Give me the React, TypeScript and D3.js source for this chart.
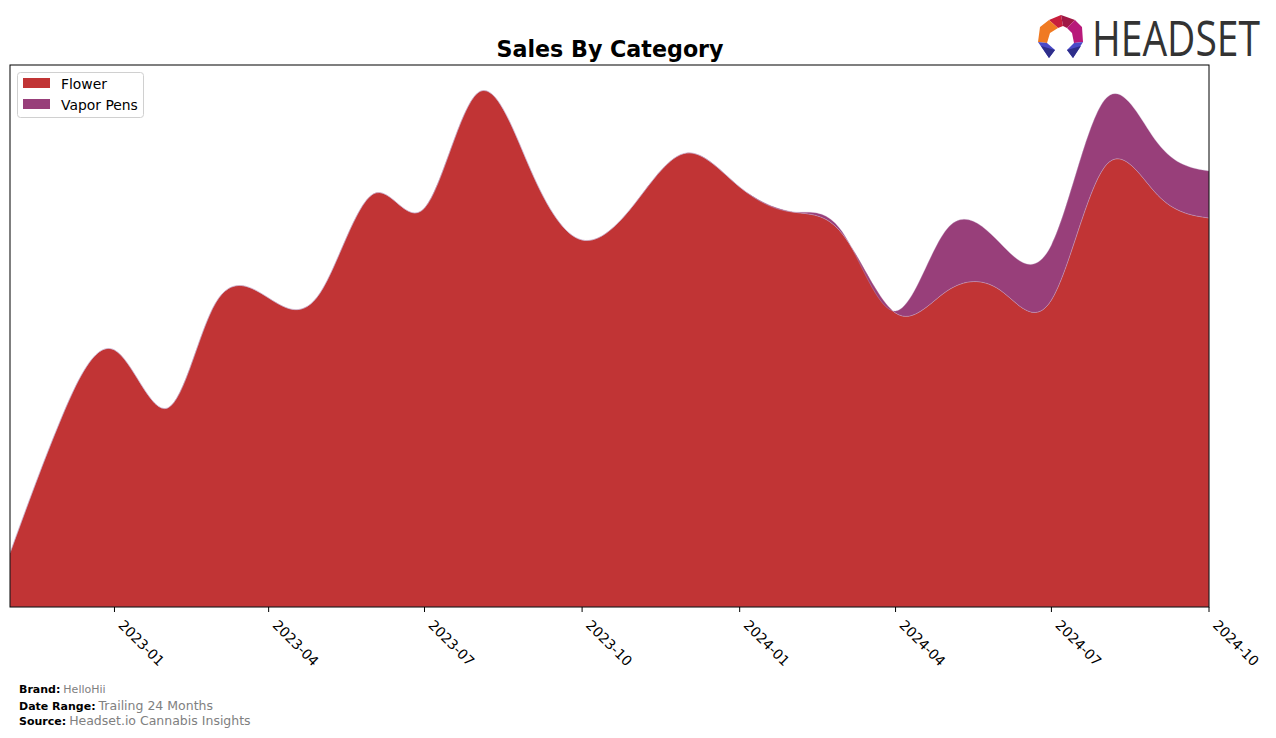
import React from "react";
import * as d3 from "d3";

const months: string[] = [
  "2022-11", "2022-12", "2023-01", "2023-02", "2023-03", "2023-04", "2023-05", "2023-06",
  "2023-07", "2023-08", "2023-09", "2023-10", "2023-11", "2023-12", "2024-01", "2024-02",
  "2024-03", "2024-04", "2024-05", "2024-06", "2024-07", "2024-08", "2024-09", "2024-10",
];
const flower: number[] = [
  54, 189, 257, 199, 304, 309, 314, 413, 399, 514, 437, 367,
  404, 454, 420, 395, 373, 294, 316, 317, 307, 440, 412, 389,
];
const vaporPens: number[] = [
  0, 0, 0, 0, 0, 0, 0, 0, 0, 0, 0, 0,
  0, 0, 0, 0, 2, 2, 62, 47, 55, 67, 52, 47,
];
const seriesNames: string[] = ["Flower", "Vapor Pens"];
const seriesColors: string[] = ["#C13435", "#983F7A"];
const tickLabels: string[] = ["2023-01", "2023-04", "2023-07", "2023-10", "2024-01", "2024-04", "2024-07", "2024-10"];
const yDomainMax = 542;

const W = 1276, H = 738;
const L = 10, R = 1209, T = 65, B = 607;

export default function App() {
  const parse = d3.utcParse("%Y-%m");
  const dates = months.map((m) => parse(m) as Date);
  const rows = dates.map((d, i) => ({ date: d, Flower: flower[i], "Vapor Pens": vaporPens[i] }));
  const stack = d3.stack<any>().keys(seriesNames);
  const layers = stack(rows);

  const x = d3.scaleUtc().domain([dates[0], dates[dates.length - 1]]).range([L, R]);
  const y = d3.scaleLinear().domain([0, yDomainMax]).range([B, T]);

  const area = d3
    .area<any>()
    .x((d) => x(d.data.date))
    .y0((d) => y(d[0]))
    .y1((d) => y(d[1]))
    .curve(d3.curveNatural);

  const font = "'DejaVu Sans', sans-serif";

  return (
    <svg width={W} height={H} style={{ position: "absolute", left: 0, top: 0, background: "#fff" }}>
      <defs>
        <clipPath id="plotclip">
          <rect x={L} y={T} width={R - L} height={B - T} />
        </clipPath>
      </defs>
      <g clipPath="url(#plotclip)">
        {layers.map((layer, i) => (
          <path
            key={seriesNames[i]}
            d={area(layer as any) || ""}
            fill={seriesColors[i]}
            stroke="#c9b6d6"
            strokeWidth={0.4}
            strokeOpacity={0.8}
          />
        ))}
      </g>
      <rect x={L} y={T} width={R - L} height={B - T} fill="none" stroke="#000" strokeWidth={1} />

      {tickLabels.map((t) => {
        const tx = x(parse(t) as Date);
        return (
          <g key={t}>
            <line x1={tx} x2={tx} y1={B} y2={B + 5} stroke="#000" strokeWidth={1} />
            <text
              transform={`translate(${tx + 3},${B + 19}) rotate(45)`}
              fontFamily={font}
              fontSize={13.9}
              fill="#000"
            >
              {t}
            </text>
          </g>
        );
      })}

      <text x={610} y={57} textAnchor="middle" fontFamily={font} fontSize={22.2} fontWeight="bold" fill="#000">
        Sales By Category
      </text>

      <g>
        <rect x={17.5} y={72.5} width={126} height={45} rx={3} fill="#fff" stroke="#d0d0d0" strokeWidth={1} />
        {seriesNames.map((n, i) => (
          <g key={n}>
            <rect x={23} y={78 + i * 21} width={27} height={10} fill={seriesColors[i]} />
            <text x={61} y={89 + i * 21} fontFamily={font} fontSize={13.9} fill="#000">
              {n}
            </text>
          </g>
        ))}
      </g>

      <g fontFamily={font}>
        <text x={19} y={693} fontSize={11}>
          <tspan fontWeight="bold" fill="#000">Brand:</tspan>
          <tspan dx={3} fill="#808080" fontSize={11}>HelloHii</tspan>
        </text>
        <text x={19} y={710} fontSize={11}>
          <tspan fontWeight="bold" fill="#000">Date Range:</tspan>
          <tspan dx={3} fill="#808080" fontSize={12.5}>Trailing 24 Months</tspan>
        </text>
        <text x={19} y={725} fontSize={11}>
          <tspan fontWeight="bold" fill="#000">Source:</tspan>
          <tspan dx={3} fill="#808080" fontSize={12.5}>Headset.io Cannabis Insights</tspan>
        </text>
      </g>

      <g>
        <polygon points="1061,15 1049,20 1058,28 1063,26" fill="#c81e3c" />
        <polygon points="1061,15 1075,20 1067,28 1063,26" fill="#a01846" />
        <polygon points="1049,20 1040,27 1038,42 1047,43 1050,33 1058,28" fill="#f07a22" />
        <polygon points="1075,20 1082,27 1083,42 1074,43 1072,33 1067,28" fill="#b8197a" />
        <polygon points="1038,42 1047,43 1055,50 1049,58" fill="#4a4ac8" />
        <polygon points="1083,42 1074,43 1067,50 1073,58" fill="#4a4ac8" />
        <polygon points="1041,46 1049,58 1055,50" fill="#2e2e8a" />
        <polygon points="1081,46 1073,58 1067,50" fill="#2e2e8a" />
        <g transform="translate(1092,56) scale(1,1.32)">
          <text
            x={0}
            y={0}
            fontFamily="'Open Sans', 'DejaVu Sans', sans-serif"
            fontSize={37}
            fill="#333"
            textLength={168}
            lengthAdjust="spacingAndGlyphs"
          >
            HEADSET
          </text>
        </g>
      </g>
    </svg>
  );
}
